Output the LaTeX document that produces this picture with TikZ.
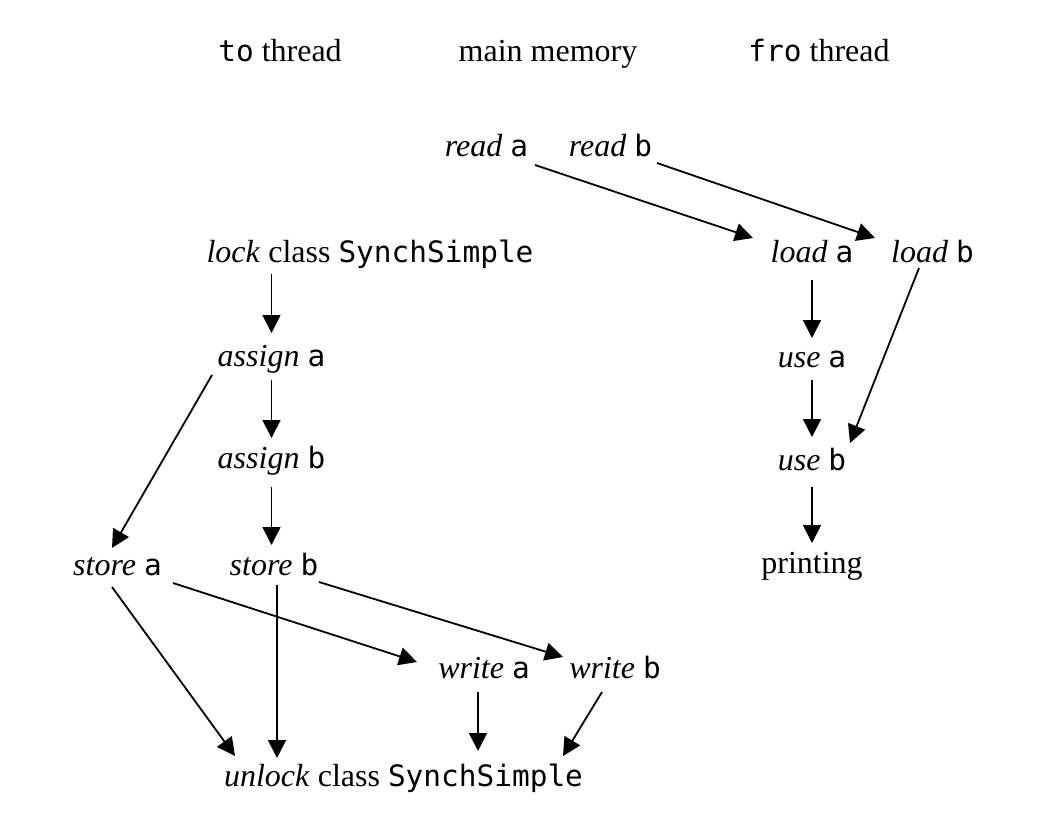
\documentclass[tikz,border=0pt]{standalone}
\usepackage{fontspec}
\setmainfont{Liberation Serif}
\setmonofont{DejaVu Sans Mono}[Scale=0.92]
\usetikzlibrary{arrows.meta,calc}
\begin{document}
\begin{tikzpicture}[x=1pt,y=-1pt,
  lbl/.style={anchor=base,inner sep=0pt,font=\fontsize{32}{38}\selectfont},
  arr/.style={line width=1.8pt,-{Triangle[length=18pt,width=18pt]}}]
\useasboundingbox[fill=white] (0,0) rectangle (1062,834);
% headers
\node[lbl] (hto)   at (280,62)  {\texttt{to} thread};
\node[lbl] (hmain) at (548,62)  {main memory};
\node[lbl] (hfro)  at (819,62)  {\texttt{fro} thread};
% main memory reads
\node[lbl] (reada) at (486.5,157) {\textit{read} \texttt{a}};
\node[lbl] (readb) at (610.5,157) {\textit{read} \texttt{b}};
% fro thread
\node[lbl] (loada) at (812,262)   {\textit{load} \texttt{a}};
\node[lbl] (loadb) at (932.5,262) {\textit{load} \texttt{b}};
\node[lbl] (usea)  at (812,367)   {\textit{use} \texttt{a}};
\node[lbl] (useb)  at (812,470)   {\textit{use} \texttt{b}};
\node[lbl] (print) at (812,573)   {printing};
% to thread
\node[lbl] (lock)    at (370,262)   {\textit{lock} class \texttt{SynchSimple}};
\node[lbl] (assigna) at (271.5,366) {\textit{assign} \texttt{a}};
\node[lbl] (assignb) at (271.5,468) {\textit{assign} \texttt{b}};
\node[lbl] (storea)  at (117.5,575) {\textit{store} \texttt{a}};
\node[lbl] (storeb)  at (274,575)   {\textit{store} \texttt{b}};
\node[lbl] (writea)  at (484,678)   {\textit{write} \texttt{a}};
\node[lbl] (writeb)  at (615,678)   {\textit{write} \texttt{b}};
\node[lbl] (unlock)  at (403.5,786) {\textit{unlock} class \texttt{SynchSimple}};
% arrows: main memory -> fro thread
\draw[arr] ($(reada.base)+(48.5,8)$) -- ($(loada.base)+(-59,-24)$);
\draw[arr] ($(readb.base)+(46.5,6)$) -- ($(loadb.base)+(-57.5,-24)$);
% fro thread
\draw[arr] ($(loada.base)+(0,18)$) -- ($(usea.base)+(0,-29)$);
\draw[arr] ($(usea.base)+(0,13)$) -- ($(useb.base)+(0,-33)$);
\draw[arr] ($(useb.base)+(0,17)$) -- ($(print.base)+(0,-30)$);
\draw[arr] ($(loadb.base)+(-13.5,6)$) -- ($(useb.base)+(38,-27)$);
% to thread
\draw[arr] ($(lock.base)+(-98.5,12)$) -- ($(assigna.base)+(0,-33)$);
\draw[arr] ($(assigna.base)+(0,14)$) -- ($(assignb.base)+(0,-30)$);
\draw[arr] ($(assignb.base)+(0,19)$) -- ($(storeb.base)+(-2.5,-30)$);
\draw[arr] ($(assigna.base)+(-59.5,9)$) -- ($(storea.base)+(-5.5,-27)$);
% stores
\draw[arr] ($(storea.base)+(-5.5,12)$) -- ($(unlock.base)+(-168.5,-30)$);
\draw[arr] ($(storeb.base)+(3,10)$) -- ($(unlock.base)+(-126.5,-28)$);
\draw[arr] ($(storea.base)+(55.5,8)$) -- ($(writea.base)+(-67,-16)$);
\draw[arr] ($(storeb.base)+(45,7)$) -- ($(writeb.base)+(-52,-21)$);
% writes
\draw[arr] ($(writea.base)+(-6,14)$) -- ($(unlock.base)+(74.5,-35)$);
\draw[arr] ($(writeb.base)+(-13,14)$) -- ($(unlock.base)+(159.5,-30)$);
\end{tikzpicture}
\end{document}
